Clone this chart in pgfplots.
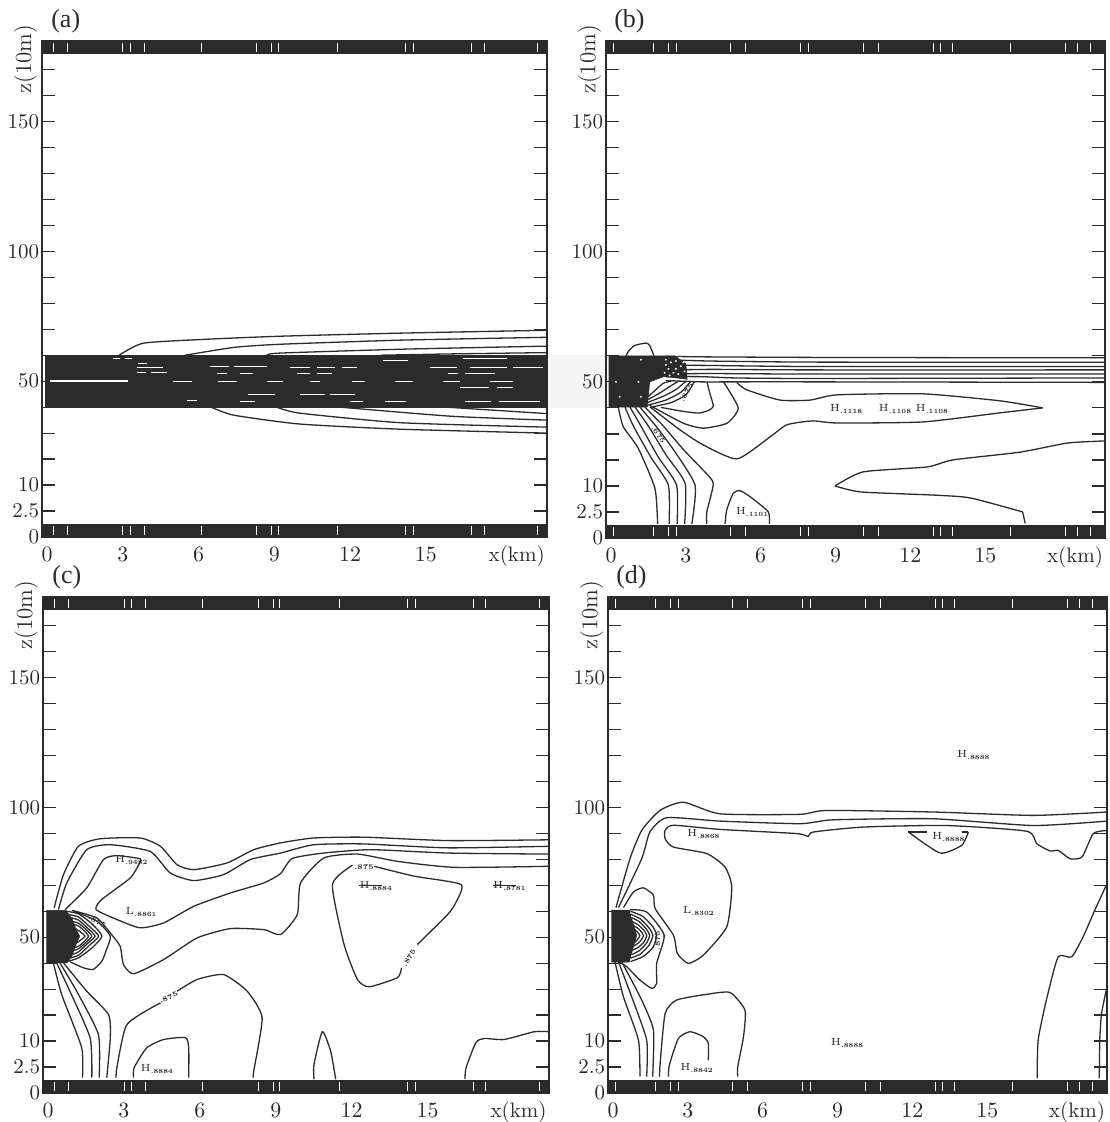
\documentclass[border=0pt]{standalone}
\usepackage{fontspec}
\usepackage{pgfplots}
\usepackage{pgfplotstable}
\pgfplotsset{compat=1.18}
\newfontfamily\timesf{Liberation Serif}
\definecolor{ink}{HTML}{2B2B2B}
\pgfplotstableread{
x b t
0.25 -7.5 178.4
0.8 -7.5 178.4
3 -7.5 178.4
3.3 -7.5 178.4
3.85 -7.5 178.4
6.1 -7.5 178.4
8.3 -7.5 178.4
8.9 -7.5 178.4
9.15 -7.5 178.4
11.5 -7.5 178.4
14.2 -7.5 178.4
14.5 -7.5 178.4
16.8 -7.5 178.4
17.3 -7.5 178.4
19.4 -7.5 178.4
}\gapsL
\pgfplotstableread{
x b t
0.1 -7.5 178.4
1.7 -7.5 178.4
2.3 -7.5 178.4
2.6 -7.5 178.4
4.8 -7.5 178.4
5.4 -7.5 178.4
7.6 -7.5 178.4
7.9 -7.5 178.4
10.1 -7.5 178.4
10.7 -7.5 178.4
12.9 -7.5 178.4
13.2 -7.5 178.4
13.7 -7.5 178.4
16 -7.5 178.4
18.2 -7.5 178.4
18.7 -7.5 178.4
19.2 -7.5 178.4
}\gapsR
\newcommand\sub[2]{\node[font=\fontsize{5.2}{6}\selectfont,inner sep=0pt,text=ink] at (axis cs:#1) {#2};}
\newcommand\hv[2]{#1\raisebox{-1pt}{\fontsize{3.2}{4}\selectfont\bfseries .#2}}
\newcommand\clab[3]{\node[font=\fontsize{3.6}{4}\selectfont\bfseries,inner sep=.2pt,text=ink,rotate=#3] at (axis cs:#1) {#2};}
\pgfplotsset{
 panel/.style={
  scale only axis, clip=false,
  xmin=-0.2, xmax=19.8, ymin=-10, ymax=181,
  xtick={0,3,6,9,12,15},
  ytick={-10,0,10,20,30,40,50,60,70,80,90,100,110,120,130,140,150,160,170},
  yticklabels={0,2.5,10,,,,50,,,,,100,,,,,150,,},
  tick align=inside, major tick length=6.5pt,
  xtick style={draw=none},
  ytick style={draw=ink,line width=.6pt},
  axis line style={draw=ink,line width=.7pt},
  tick label style={font=\fontsize{10.5}{12}\selectfont,text=ink},
  yticklabel style={inner sep=1.2pt},
  xticklabel style={yshift=-1.5pt},
 },
 ct/.style={no marks,smooth,tension=0.35,draw=ink,line width=.65pt},
 blk/.style={fill=ink,draw=ink,line width=.3pt},
 gap/.style={only marks,mark=|,mark size=2.2pt,mark options={draw=white,line width=.35pt}},
 sp/.style={no marks,draw=white,line width=.4pt,unbounded coords=jump},
}
\newcommand\frameparts[2]{%
 \addplot[fill=ink,draw=none] coordinates {(-0.2,-10)(19.8,-10)(19.8,-5)(-0.2,-5)} --cycle;
 \addplot[fill=ink,draw=none] coordinates {(-0.2,176)(19.8,176)(19.8,181)(-0.2,181)} --cycle;
 \addplot[gap] table[x=x,y=b] {#1};
 \addplot[gap] table[x=x,y=t] {#1};
 \node[font=\fontsize{10.5}{12}\selectfont,text=ink,inner sep=0pt] at (rel axis cs:0.94,-0.038) {x(km)};
 \node[font=\fontsize{11.5}{12}\selectfont,text=ink,inner sep=0pt,rotate=90] at (rel axis cs:-0.033,0.963) {z(10m)};
 \node[font=\timesf\fontsize{13}{13}\selectfont,text=ink,inner sep=0pt] at (rel axis cs:0.047,1.04) {(#2)};
}
\begin{document}
\begin{tikzpicture}
\useasboundingbox (0,0) rectangle (554.5pt,561pt);
\fill[black!4] (273.5pt,357pt) rectangle (303pt,383.5pt);
%---------------- (a)
\begin{axis}[panel,at={(21pt,292.5pt)},anchor=south west,width=252.5pt,height=248pt]
\frameparts{\gapsL}{a}
\addplot[blk] coordinates {(-0.08,40)(19.8,40)(19.8,59.8)(-0.08,59.8)} --cycle;
\addplot[draw=white,line width=1.3pt,no marks] coordinates {(0.1,50)(3.2,50)};
\addplot[sp] coordinates {
(2.61,58.8)(2.9,58.8)(nan,nan)(3.1,58.8)(3.37,58.8)(nan,nan)
(3.6,56.9)(3.96,56.9)(nan,nan)(3.56,55.4)(4.59,55.4)(nan,nan)(3.56,53.5)(3.9,53.5)(nan,nan)(4.1,53.5)(4.75,53.5)(nan,nan)
(4.99,50)(5.74,50)(nan,nan)(5.54,42.7)(5.94,42.7)(nan,nan)
(6.46,55.8)(7.2,55.8)(nan,nan)(7.4,55.8)(8.71,55.8)(nan,nan)
(6.73,53)(7.13,53)(nan,nan)(7.64,53)(8.16,53)(nan,nan)
(6.77,50)(7.52,50)(nan,nan)(8.71,50)(9.35,50)(nan,nan)
(7.96,45)(9.03,45)(nan,nan)(7.64,42.3)(8.24,42.3)(nan,nan)
(9.62,55.4)(10.4,55.4)(nan,nan)(10.7,55.4)(11.4,55.4)(nan,nan)(11.7,55.4)(12.28,55.4)(nan,nan)
(9.9,53)(10.42,53)(nan,nan)(10.69,53)(11.29,53)(nan,nan)
(10.42,50)(10.81,50)(nan,nan)(12.08,50)(12.59,50)(nan,nan)(13.78,50)(14.5,50)(nan,nan)(15.68,50)(16.36,50)(nan,nan)(17.54,50)(18.46,50)(nan,nan)
(13.3,58)(14.3,58)(nan,nan)(15.17,55.4)(16.24,55.4)(nan,nan)(16.75,55.4)(18.22,55.4)(nan,nan)(18.46,55.4)(19.64,55.4)(nan,nan)
(15.88,53)(16.28,53)(nan,nan)(16.55,53)(17.74,53)(nan,nan)
(10.02,45)(11,45)(nan,nan)(11.2,45)(12.2,45)(nan,nan)
(16.36,47.7)(17.5,47.7)(nan,nan)(17.8,47.7)(18.46,47.7)(nan,nan)
(16.55,42.3)(17.6,42.3)(nan,nan)(17.9,42.3)(19.52,42.3)(nan,nan)
(16.47,58.8)(18.22,58.8)(nan,nan)
(12,42.3)(12.5,42.3)(nan,nan)(13.4,42.3)(14.2,42.3)(nan,nan)
};
\addplot[ct] coordinates {(2.85,60)(3.8,64.6)(6,66)(9.2,67.3)(14,68.5)(19.8,69.6)};
\addplot[ct] coordinates {(5.47,60)(7.4,63)(9.2,64.2)(14,65.8)(19.8,66.9)};
\addplot[ct] coordinates {(8.7,60)(9.2,60.8)(14,62.3)(19.8,63.5)};
\addplot[ct] coordinates {(13.2,60)(16,60.5)(19.8,61)};
\addplot[ct] coordinates {(6.5,40)(7.4,36.9)(10,33.5)(14,31.5)(19.8,30)};
\addplot[ct] coordinates {(9.1,40)(10,37.7)(14,34)(19.8,32.3)};
\addplot[ct] coordinates {(11.6,40)(16,36.5)(19.8,35)};
\addplot[ct] coordinates {(15.8,40)(19.8,37.5)};
\end{axis}
%---------------- (b)
\begin{axis}[panel,at={(303pt,292pt)},anchor=south west,width=249.5pt,height=248.5pt]
\frameparts{\gapsR}{b}
\addplot[blk] coordinates {(-0.08,60)(2.55,60)(3,57)(3.05,51)(2.4,51.8)(2.1,52)(1.55,50)(1.45,40.3)(-0.08,40.3)} --cycle;
\addplot[only marks,mark=*,mark size=.25pt,mark options={draw=white,fill=white}] coordinates {
(0.2,50)(0.35,44.3)(1.2,44.3)(1.1,50)(1.2,58.5)(2.2,58.5)(2.4,57.5)(2.6,58)(2.3,55)(2.5,53.5)(2.8,56)(2.7,53)(2.35,52.5)(2.9,57.5)(2.15,53.5)(2.6,55)(2.95,54)(2.2,56.5)};
\addplot[ct] coordinates {(2.2,59.8)(3.9,59.6)(8,59.4)(14,59.3)(19.8,59.3)};
\addplot[ct] coordinates {(2.2,58.5)(4,58)(8,57.6)(19.8,57.5)};
\addplot[ct] coordinates {(2.2,56.5)(4,56.3)(8,55.9)(19.8,55.9)};
\addplot[ct] coordinates {(2.2,54.5)(4,54.8)(8,54.6)(19.8,54.6)};
\addplot[ct] coordinates {(2.2,53)(3.9,53.2)(8,53)(19.8,53)};
\addplot[ct] coordinates {(2.2,52)(3.6,52)(5,51.5)(8,51.3)(19.8,51.5)};
\addplot[ct] coordinates {(2.2,50.5)(3.6,50)(5,50)(8,50)(19.8,49.8)};
\addplot[ct] coordinates {(0.6,60)(0.72,62)(0.95,64)(1.4,64.9)(1.55,64)(1.72,60)};
\addplot[ct] coordinates {(1.45,44)(1.8,47)(2.1,49.5)(2.4,50.2)};
\addplot[ct] coordinates {(1.45,43)(2,46)(2.4,48.5)(2.7,50.2)};
\addplot[ct] coordinates {(1.45,42)(2.1,44.5)(2.6,47)(3,50.2)};
\addplot[ct] coordinates {(1.45,41)(2.2,43)(2.8,46)(3.2,50.2)};
\addplot[ct] coordinates {(1.6,40.3)(2.4,42)(3,45)(3.35,50.2)};
\addplot[ct] coordinates {(3.85,50)(3.95,46)(4.1,40.7)(3.9,39)(3.5,38)(2.8,38.8)(2,40.2)};
\addplot[ct] coordinates {(4.5,50.1)(5.1,40)(4.65,34.1)(3.7,32.2)(2.9,34.1)(1.55,41)};
\addplot[ct] coordinates {(5.05,49.6)(5.45,46.9)(6.77,43)(7.98,43)(9.06,45)(12.5,45.4)(15.6,42.7)(17.3,40)};
\addplot[ct] coordinates {(17.3,40)(15.6,38.1)(12.5,34.6)(9.06,34.2)(8.07,35)(7.05,33.5)(6.37,28.8)(5.05,20.4)(3.69,25.8)(2.77,31.5)(1.56,40.4)};
\addplot[ct] coordinates {(0.29,40.3)(0.49,32.8)(1.09,24.5)(1.76,9.1)(1.87,-4.6)};
\addplot[ct] coordinates {(0.56,40.3)(0.9,33)(1.6,21)(2.3,10.3)(2.33,-4.6)};
\addplot[ct] coordinates {(0.76,40.3)(1.2,33)(1.9,21)(2.63,10.3)(2.65,-4.6)};
\addplot[ct] coordinates {(0.96,40.3)(1.5,33)(2.2,22)(2.97,11)(2.95,-4.6)};
\addplot[ct] coordinates {(1.16,40.3)(1.8,33)(2.5,24)(3.37,10.3)(3.24,-4.6)};
\addplot[ct] coordinates {(1.36,40.3)(2.1,33)(2.9,24)(3.7,16)(4.1,11)(3.84,0)(3.84,-4.6)};
\addplot[ct] coordinates {(4.57,-4.6)(4.64,0.8)(4.9,7.2)(5.17,8.2)(5.57,5.9)(6.3,0.1)(6.35,-4.6)};
\addplot[ct] coordinates {(8.98,10)(10.1,15.4)(12.67,17.3)(13.7,20)(16.4,23)(18.3,26.5)(19.8,27.3)};
\addplot[ct] coordinates {(8.98,10)(10,7.7)(12.9,6.5)(14.4,5.4)(16.5,0)};
\addplot[ct] coordinates {(16.5,0)(16.6,-4.4)};
\sub{9.42,39.6}{\hv{H}{1118}}
\sub{11.38,39.6}{\hv{H}{1108}}
\sub{12.86,39.6}{\hv{H}{1108}}
\sub{5.65,0}{\hv{H}{1101}}
\clab{1.9,29.6}{.675}{-55}
\clab{3.03,45.9}{.875}{60}
\end{axis}
%---------------- (c)
\begin{axis}[panel,at={(21.5pt,14.5pt)},anchor=south west,width=253pt,height=248pt]
\frameparts{\gapsL}{c}
\addplot[blk] coordinates {(-0.05,60.3)(0.7,60.3)(0.95,57)(1.1,53)(1.25,50.4)(1.1,47)(0.95,43)(0.75,40.1)(-0.05,40.1)} --cycle;
\addplot[ct] coordinates {(0.7,60)(1.2,59)(1.75,55)(2.13,50.4)(1.75,46)(1.2,42)(0.7,40.5)};
\addplot[ct] coordinates {(0.75,58.8)(1.2,57.8)(1.65,54)(2,50.4)(1.65,47)(1.2,43)(0.75,41.7)};
\addplot[ct] coordinates {(0.85,57.6)(1.2,56.6)(1.55,53.6)(1.86,50.4)(1.55,47.5)(1.2,44.3)(0.85,43)};
\addplot[ct] coordinates {(0.9,56.2)(1.2,55.4)(1.5,53)(1.73,50.4)(1.5,48)(1.2,45.5)(0.9,44.6)};
\addplot[ct] coordinates {(1,55)(1.25,54)(1.6,50.4)(1.25,46.8)(1,45.8)};
\addplot[ct] coordinates {(1.05,53.5)(1.46,50.4)(1.05,47.3)};
\addplot[ct] coordinates {(0.95,60.3)(1.93,56.2)(2.46,50.4)(2.3,45)(2.13,40.8)(1.79,37.6)(1.4,38.2)(0.87,40.5)};
\addplot[ct] coordinates {(0.24,61.3)(0.61,74.1)(1.2,85)(2.06,87.9)(3.64,88.2)(4.44,85)(5.1,77.9)(5.76,76)(7.08,78.6)(8.13,83.7)(9.19,86.3)(10.5,88.2)(12.5,88.5)(15.8,87.2)(19.8,87.5)};
\addplot[ct] coordinates {(0.41,60.6)(0.74,70.9)(1.53,83.7)(2.46,85.6)(4.04,83)(4.83,74.7)(5.76,71.8)(6.94,74.1)(8,79.9)(9.19,82.4)(10.5,85.6)(12.5,85.9)(15.8,84.4)(19.8,85)};
\addplot[ct] coordinates {(0.67,60.6)(1.53,69)(2.19,79.9)(2.72,81.4)(3.64,80.2)(3.62,78.6)(3.25,72.8)(2.12,64.5)(1.9,60.6)(2.72,56.8)(3.64,53.6)(4.57,55.5)(5.76,61.9)(7.2,67)(8.53,70.9)(9.19,74.5)(9.65,80.3)(10.9,82.4)(12.75,83.7)(15.8,82.4)(19.8,82)};
\addplot[ct] coordinates {(1,60.2)(1.93,57.4)(2.46,51.6)(2.85,46.5)(2.98,39.5)(3.38,35.9)(4.57,41.4)(5.89,49.7)(7.2,53.3)(8.53,52.9)(9.19,51)(9.85,58.7)(9.98,70.9)(10.9,80.5)(12.23,82)(13.81,79.2)(16.05,76.9)(19.8,77.3)};
\addplot[ct] coordinates {(12.89,77.3)(14.47,73.5)(16.32,70.3)(16.1,63)(15.79,58.7)(14.6,47.2)};
\addplot[ct] coordinates {(13.97,38.2)(13.81,34.4)(12.69,30.9)(12.23,33.7)(11.7,47.2)(11.24,70.3)(12.03,77.7)};
\addplot[ct] coordinates {(0.21,40.1)(0.54,27.9)(1.33,7.4)(1.36,-4.1)};
\addplot[ct] coordinates {(0.34,40.1)(0.8,30.5)(1.66,11.3)(1.73,-4.1)};
\addplot[ct] coordinates {(0.47,40.1)(1.13,29.2)(1.99,12.5)(2.02,-4.1)};
\addplot[ct] coordinates {(0.61,40.1)(1.53,29.2)(2.39,20.2)(2.46,11.3)(2.32,-4.1)};
\addplot[ct] coordinates {(2.69,-4.1)(2.72,-0.3)(3.12,16.4)(4.44,24.7)};
\addplot[ct] coordinates {(5.1,29.2)(5.89,33.7)(6.94,35.6)(7.87,29.2)(8.46,19)(8.13,-1.6)(8.11,-4.1)};
\addplot[ct] coordinates {(3.38,-4.1)(3.4,-0.3)(3.9,7.4)(4.57,10.6)(5.43,11.3)(5.56,7.4)(5.56,-4.1)};
\addplot[ct] coordinates {(10.51,-4.7)(10.51,1)(10.84,13.6)(11.17,6.1)(11.37,-4.7)};
\addplot[ct] coordinates {(16.48,-4.7)(16.52,-0.3)(16.91,9.4)(17.24,11)(18.03,10.6)(19.22,13.6)(19.8,13.6)};
\sub{3.29,79.9}{\hv{H}{9482}}
\sub{3.68,59.7}{\hv{L}{8861}}
\sub{4.3,-0.9}{\hv{H}{8884}}
\sub{12.95,69.6}{\hv{H}{8884}}
\sub{18.23,69.6}{\hv{H}{8781}}
\addplot[no marks,draw=ink,line width=.4pt] coordinates {(12.3,70)(13.2,70)};
\addplot[no marks,draw=ink,line width=.4pt] coordinates {(17.6,70)(18.5,70)};
\clab{4.77,26.7}{.875}{25}
\clab{12.49,77}{.875}{0}
\clab{14.27,42}{.875}{60}
\clab{1.95,56}{.875}{-30}
\end{axis}
%---------------- (d)
\begin{axis}[panel,at={(304pt,14.5pt)},anchor=south west,width=249.5pt,height=248pt]
\frameparts{\gapsR}{d}
\addplot[blk] coordinates {(-0.05,60.4)(0.65,60.4)(0.75,57)(0.95,50.6)(0.75,44)(0.65,40.4)(-0.05,40.4)} --cycle;
\addplot[ct] coordinates {(0.7,60)(1.2,58)(1.6,54)(1.75,50.6)(1.6,46)(1.2,42.5)(0.7,40.6)};
\addplot[ct] coordinates {(0.72,58.8)(1.1,57)(1.45,53.5)(1.6,50.6)(1.45,47)(1.1,43.5)(0.72,42)};
\addplot[ct] coordinates {(0.75,57.5)(1.05,56)(1.33,53.2)(1.47,50.6)(1.33,47.5)(1.05,44.8)(0.75,43.3)};
\addplot[ct] coordinates {(0.78,56)(1,54.8)(1.23,52.8)(1.35,50.6)(1.23,48)(1,46)(0.78,45)};
\addplot[ct] coordinates {(0.82,54.5)(1.05,53)(1.22,50.6)(1.05,48)(0.82,46.5)};
\addplot[ct] coordinates {(0.88,53)(1.08,50.6)(0.88,48)};
\addplot[ct] coordinates {(0.68,60.6)(1.35,59.7)(2.05,50.8)(1.75,39.9)(1.75,32.2)(1.55,30.3)(1.08,33.5)(0.55,38.6)(0.22,40.5)};
\addplot[ct] coordinates {(0.42,61.4)(0.82,67.4)(1.22,69)(1.62,66.2)(1.69,61)(2.42,50.8)(2.58,43.7)(3.02,39.9)(3.62,43.1)(4.56,54)(4.76,69.4)(4.49,77)(3.76,82.2)(2.42,84.7)(2.09,87.9)(2.09,91.2)(2.42,93.1)(4.29,91.5)(7.36,89.9)(7.83,88.8)(8.03,90.5)(10.03,92.4)(13.37,93)(16.58,90.8)(16.98,86)(17.52,83.2)(17.85,83.4)(18.32,80.2)(18.8,80.9)(19.25,89.9)(19.8,91.1)};
\addplot[ct] coordinates {(0.12,61.4)(0.68,80.2)(1.15,91.1)(1.88,98.8)(2.82,102)(4.29,97.5)(7.5,97.3)(8.56,98.8)(12.84,98.2)(16.85,96.9)(19.8,98.2)};
\addplot[ct] coordinates {(0.22,61.4)(1.15,80.2)(1.48,90.5)(2.15,96)(4.29,94.7)(7.5,93.7)(8.83,95.2)(12.84,95.6)(16.85,93)(19.8,94.7)};
\addplot[ct] coordinates {(11.84,90.5)(13.11,82.4)(13.98,85.4)(14.24,90.5)};
\addplot[no marks,draw=ink,line width=.65pt] coordinates {(11.84,90.5)(12.6,90.5)};
\addplot[no marks,draw=ink,line width=.65pt] coordinates {(14,90.5)(14.24,90.5)};
\addplot[ct] coordinates {(0.08,40.5)(0.42,27)(1.02,10.4)(1.08,-3.7)};
\addplot[ct] coordinates {(0.22,40.5)(0.75,27)(1.35,10.4)(1.35,-3.7)};
\addplot[ct] coordinates {(0.35,40.5)(1.15,25.8)(1.62,14.2)(1.59,-3.7)};
\addplot[ct] coordinates {(1.86,-3.7)(1.89,1.4)(2.09,20.6)(2.55,25.8)(3.76,28)(4.69,28.7)(5.29,21.9)(5.23,11.7)(5,0.1)(5,-3.7)};
\addplot[ct] coordinates {(2.22,-3.7)(2.26,0.8)(2.62,11)(3.09,13.6)(3.62,11.7)(3.82,9.1)(3.82,2.7)};
\addplot[ct] coordinates {(17,-4.4)(17.04,10.4)(17.37,25.8)(17.84,42.4)(18.38,42.4)(18.84,50.1)(19.31,60.4)(19.8,70.6)};
\addplot[ct] coordinates {(19.49,-4.4)(19.51,10.4)(19.58,20.6)(19.8,30.9)};
\sub{14.44,120}{\hv{H}{8888}}
\sub{3.62,89.9}{\hv{H}{8868}}
\sub{13.44,88.6}{\hv{H}{8888}}
\sub{3.42,60.1}{\hv{L}{8302}}
\sub{9.38,9.2}{\hv{H}{8888}}
\sub{3.35,-0.5}{\hv{H}{8842}}
\clab{1.78,48.8}{.875}{90}
\end{axis}
\end{tikzpicture}
\end{document}
